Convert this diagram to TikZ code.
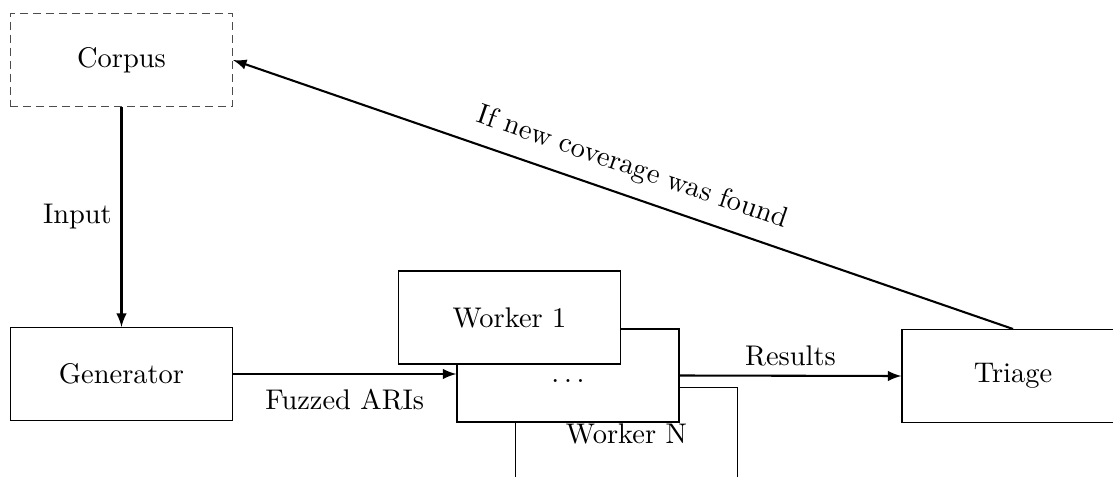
\documentclass[tikz,border=0pt]{standalone}
\usetikzlibrary{arrows}
\begin{document}
\begin{tikzpicture}[x=0.01353cm,y=-0.01353cm,
  every node/.style={font=\fontsize{10.95}{13}\selectfont},
  box/.style={draw,fill=white,minimum width=222*0.01353cm,minimum height=93*0.01353cm,inner sep=0pt},
  conn/.style={thick,-latex}]
\useasboundingbox (0,0) rectangle (1113,477);
\clip (0,0) rectangle (1113,477);
\node[box,densely dashed,draw=black!70] (corpus) at (121.5,60) {Corpus};
\node[box] (gen) at (121.5,374) {Generator};
\node[box] (wN) at (626.5,434) {Worker N};
\node[box] (wmid) at (568,375.5) {\strut$\ldots$};
\node[box] (w1) at (509.5,317.5) {Worker 1};
\node[box] (triage) at (1013,376) {Triage};
\draw[conn] (corpus.south) -- node[left=0pt] {Input} (gen.north);
\draw[conn] (gen.east) -- node[below=2pt] {Fuzzed ARIs} (gen.east -| wmid.west);
\draw[conn] (wmid.east) -- node[above=0pt] {Results} (triage.west);
\draw[conn] (triage.north) -- node[midway,above=2pt,sloped] {If new coverage was found} (corpus.east);
\end{tikzpicture}
\end{document}
